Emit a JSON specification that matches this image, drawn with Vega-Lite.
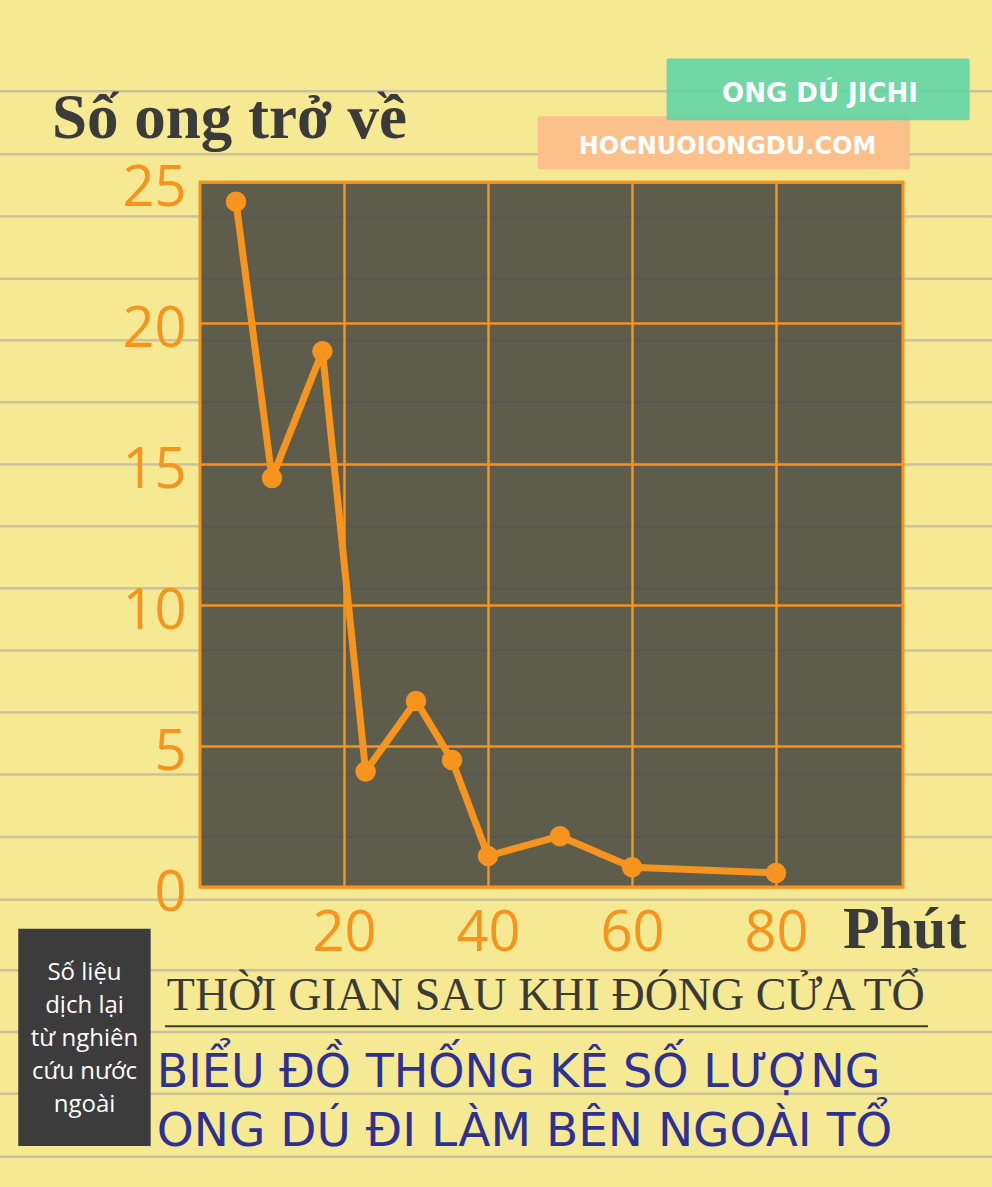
{
  "$schema": "https://vega.github.io/schema/vega-lite/v6.json",
  "width": 703,
  "height": 705,
  "autosize": {"type": "none"},
  "padding": {"left": 200, "top": 182, "right": 89, "bottom": 300},
  "background": "#f5e994",
  "config": {"view": {"stroke": null}},
  "datasets": {
    "bees": [
      {"minutes": 5, "bees": 24.3},
      {"minutes": 10, "bees": 14.5},
      {"minutes": 17, "bees": 19.0},
      {"minutes": 23, "bees": 4.1},
      {"minutes": 30, "bees": 6.6},
      {"minutes": 35, "bees": 4.5},
      {"minutes": 40, "bees": 1.1},
      {"minutes": 50, "bees": 1.8},
      {"minutes": 60, "bees": 0.7},
      {"minutes": 80, "bees": 0.5}
    ],
    "paper": [
      {"line_y": 28.22}, {"line_y": 25.98}, {"line_y": 23.78}, {"line_y": 21.57},
      {"line_y": 19.39}, {"line_y": 17.19}, {"line_y": 14.98}, {"line_y": 12.79},
      {"line_y": 10.59}, {"line_y": 8.39}, {"line_y": 6.19}, {"line_y": 3.99},
      {"line_y": 1.77}, {"line_y": -0.45}, {"line_y": -2.95}, {"line_y": -5.14},
      {"line_y": -7.33}, {"line_y": -9.57}
    ]
  },
  "layer": [
    {
      "data": {"name": "paper"},
      "mark": {"type": "rule", "stroke": "#c9c29b", "strokeWidth": 2.5},
      "encoding": {
        "y": {
          "field": "line_y", "type": "quantitative",
          "scale": {"domain": [0, 25], "nice": false, "zero": false},
          "axis": {
            "values": [0, 5, 10, 15, 20, 25], "title": null, "domain": false, "ticks": false,
            "grid": true, "gridColor": "#f7941d", "gridWidth": 2.5, "gridOpacity": 1,
            "labelFont": "Open Sans", "labelFontSize": 56, "labelColor": "#f7941d",
            "labelPadding": 14, "labelOffset": 6, "labelFlush": false, "labelOverlap": false,
            "labelBound": false, "zindex": 1
          }
        },
        "x": {
          "datum": -27.8, "type": "quantitative",
          "scale": {"domain": [0, 97.64], "nice": false, "zero": false},
          "axis": {
            "values": [20, 40, 60, 80], "title": null, "domain": false, "ticks": false,
            "grid": true, "gridColor": "#f7941d", "gridWidth": 2.5, "gridOpacity": 1,
            "labelFont": "Open Sans", "labelFontSize": 56, "labelColor": "#f7941d",
            "labelPadding": 19, "labelFlush": false, "labelOverlap": false,
            "labelBound": false, "zindex": 1
          }
        },
        "x2": {"datum": 110}
      }
    },
    {
      "data": {"values": [{}]},
      "mark": {"type": "rect", "fill": "#fcc18a", "cornerRadius": 2},
      "encoding": {
        "x": {"datum": 46.9, "type": "quantitative"}, "x2": {"datum": 98.6},
        "y": {"datum": 27.33, "type": "quantitative"}, "y2": {"datum": 25.45}
      }
    },
    {
      "data": {"values": [{}]},
      "mark": {"type": "rect", "fill": "#62d5a6", "fillOpacity": 0.9, "cornerRadius": 2},
      "encoding": {
        "x": {"datum": 64.8, "type": "quantitative"}, "x2": {"datum": 106.9},
        "y": {"datum": 29.38, "type": "quantitative"}, "y2": {"datum": 27.19}
      }
    },
    {
      "data": {"values": [{}]},
      "mark": {"type": "text", "text": "HOCNUOIONGDU.COM", "font": "DejaVu Sans", "fontWeight": "bold", "fontSize": 24, "color": "#ffffff", "align": "center", "baseline": "alphabetic"},
      "encoding": {
        "x": {"datum": 73.26, "type": "quantitative"},
        "y": {"datum": 26.01, "type": "quantitative"}
      }
    },
    {
      "data": {"values": [{}]},
      "mark": {"type": "text", "text": "ONG DÚ JICHI", "font": "DejaVu Sans", "fontWeight": "bold", "fontSize": 26, "color": "#ffffff", "align": "center", "baseline": "alphabetic"},
      "encoding": {
        "x": {"datum": 86.11, "type": "quantitative"},
        "y": {"datum": 27.84, "type": "quantitative"}
      }
    },
    {
      "data": {"values": [{}]},
      "mark": {"type": "text", "text": "Số ong trở về", "font": "Liberation Serif", "fontWeight": "bold", "fontSize": 63, "color": "#3b3b3b", "align": "left", "baseline": "alphabetic"},
      "encoding": {
        "x": {"datum": -20.56, "type": "quantitative"},
        "y": {"datum": 26.57, "type": "quantitative"}
      }
    },
    {
      "data": {"values": [{}]},
      "mark": {"type": "rect", "fill": "#4e4c42", "fillOpacity": 0.9, "stroke": "#f7941d", "strokeWidth": 3},
      "encoding": {
        "x": {"datum": 0, "type": "quantitative"}, "x2": {"datum": 97.64},
        "y": {"datum": 0, "type": "quantitative"}, "y2": {"datum": 25}
      }
    },
    {
      "data": {"name": "bees"},
      "mark": {"type": "line", "color": "#f7941d", "strokeWidth": 7, "strokeCap": "round", "strokeJoin": "round"},
      "encoding": {
        "x": {"field": "minutes", "type": "quantitative"},
        "y": {"field": "bees", "type": "quantitative"}
      }
    },
    {
      "data": {"name": "bees"},
      "mark": {"type": "point", "filled": true, "color": "#f7941d", "size": 420, "opacity": 1},
      "encoding": {
        "x": {"field": "minutes", "type": "quantitative"},
        "y": {"field": "bees", "type": "quantitative"}
      }
    },
    {
      "data": {"values": [{}]},
      "mark": {"type": "text", "text": "Phút", "font": "Liberation Serif", "fontWeight": "bold", "fontSize": 60, "color": "#3b3b3b", "align": "left", "baseline": "alphabetic"},
      "encoding": {
        "x": {"datum": 89.31, "type": "quantitative"},
        "y": {"datum": -2.18, "type": "quantitative"}
      }
    },
    {
      "data": {"values": [{}]},
      "mark": {"type": "rect", "fill": "#3c3c3c"},
      "encoding": {
        "x": {"datum": -25.24, "type": "quantitative"}, "x2": {"datum": -6.85},
        "y": {"datum": -1.48, "type": "quantitative"}, "y2": {"datum": -9.18}
      }
    },
    {
      "data": {"values": [{}]},
      "mark": {"type": "text", "text": "Số liệu\ndịch lại\ntừ nghiên\ncứu nước\nngoài", "lineBreak": "\n", "lineHeight": 33, "font": "Open Sans", "fontSize": 24, "color": "#ffffff", "align": "center", "baseline": "top"},
      "encoding": {
        "x": {"datum": -16.04, "type": "quantitative"},
        "y": {"datum": -2.61, "type": "quantitative"}
      }
    },
    {
      "data": {"values": [{}]},
      "mark": {"type": "text", "text": "THỜI GIAN SAU KHI ĐÓNG CỬA TỔ", "font": "Liberation Serif", "fontSize": 46, "color": "#3b3a36", "align": "center", "baseline": "alphabetic"},
      "encoding": {
        "x": {"datum": 48.03, "type": "quantitative"},
        "y": {"datum": -4.37, "type": "quantitative"}
      }
    },
    {
      "data": {"values": [{}]},
      "mark": {"type": "rule", "stroke": "#3b3a36", "strokeWidth": 2},
      "encoding": {
        "x": {"datum": -4.86, "type": "quantitative"}, "x2": {"datum": 101.1},
        "y": {"datum": -4.94, "type": "quantitative"}
      }
    },
    {
      "data": {"values": [{}]},
      "mark": {"type": "text", "text": "BIỂU ĐỒ THỐNG KÊ SỐ LƯỢNG", "font": "DejaVu Sans", "fontSize": 46, "color": "#2e3192", "align": "left", "baseline": "alphabetic"},
      "encoding": {
        "x": {"datum": -6.01, "type": "quantitative"},
        "y": {"datum": -7.09, "type": "quantitative"}
      }
    },
    {
      "data": {"values": [{}]},
      "mark": {"type": "text", "text": "ONG DÚ ĐI LÀM BÊN NGOÀI TỔ", "font": "DejaVu Sans", "fontSize": 47, "color": "#2e3192", "align": "left", "baseline": "alphabetic"},
      "encoding": {
        "x": {"datum": -6.01, "type": "quantitative"},
        "y": {"datum": -9.18, "type": "quantitative"}
      }
    }
  ]
}
